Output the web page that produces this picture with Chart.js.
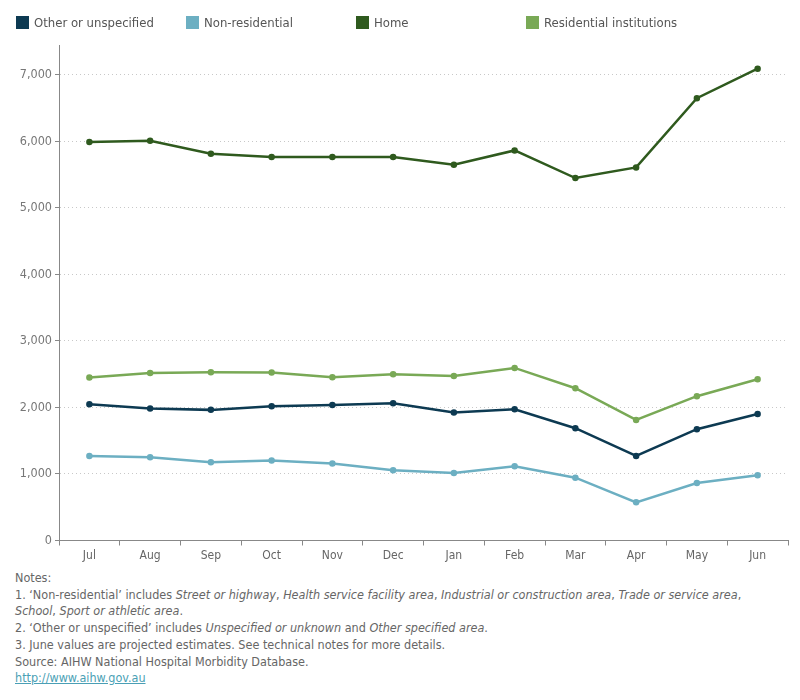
<!DOCTYPE html>
<html>
<head>
<meta charset="utf-8">
<script src="https://cdn.jsdelivr.net/npm/chart.js@4"></script>
<style>
body { margin: 0; background: #fff; font-family: "Liberation Sans Narrow", "DejaVu Sans Condensed", "Open Sans", sans-serif; }
#wrap { position: relative; width: 800px; height: 700px; }
#legend { position: absolute; left: 16px; top: 14px; font-size: 13px; color: #555; }
.item { position: absolute; top: 0; white-space: nowrap; }
.item span.sw { position: absolute; left: 0; top: 2px; width: 13px; height: 13px; }
.item span.tx { position: absolute; left: 18px; top: 0; line-height: 17px; }
#canvasBox { position: absolute; left: 0; top: 0; width: 800px; height: 570px; }
#notes { position: absolute; left: 15px; top: 570px; font-size: 12.5px; line-height: 16.7px; color: #666; }
#notes a { color: #4a9fb5; }
</style>
</head>
<body>
<div id="wrap">
  <div id="canvasBox"><canvas id="chart"></canvas></div>
  <div id="legend"></div>
  <div id="notes">
    Notes:<br>
    1. ‘Non-residential’ includes <i>Street or highway</i>, <i>Health service facility area</i>, <i>Industrial or construction area</i>, <i>Trade or service area</i>,<br>
    <i>School</i>, <i>Sport or athletic area</i>.<br>
    2. ‘Other or unspecified’ includes <i>Unspecified or unknown</i> and <i>Other specified area</i>.<br>
    3. June values are projected estimates. See technical notes for more details.<br>
    Source: AIHW National Hospital Morbidity Database.<br>
    <a href="http://www.aihw.gov.au">http://www.aihw.gov.au</a>
  </div>
</div>
<script>
const months = ["Jul", "Aug", "Sep", "Oct", "Nov", "Dec", "Jan", "Feb", "Mar", "Apr", "May", "Jun"]
const otherUnspecified = [2049, 1983, 1964, 2019, 2039, 2064, 1923, 1974, 1688, 1271, 1673, 1903]
const nonResidential = [1271, 1251, 1176, 1201, 1156, 1056, 1016, 1116, 945, 574, 865, 981]
const home = [5991, 6011, 5815, 5766, 5766, 5766, 5650, 5865, 5450, 5610, 6650, 7094]
const residential = [2450, 2520, 2531, 2526, 2455, 2500, 2475, 2595, 2290, 1813, 2170, 2425]
const yTicks = [0, 1000, 2000, 3000, 4000, 5000, 6000, 7000]

const series = [
	{ label: "Other or unspecified", data: otherUnspecified, color: "#0d3a52" },
	{ label: "Non-residential", data: nonResidential, color: "#6cafc2" },
	{ label: "Home", data: home, color: "#2f5a1e" },
	{ label: "Residential institutions", data: residential, color: "#79a956" },
]

// legend
const legend = document.getElementById("legend")
series.forEach((s, i) => {
	const d = document.createElement("div")
	d.className = "item"
	d.style.left = (i * 170) + "px"
	d.innerHTML = `<span class="sw" style="background:${s.color}"></span><span class="tx">${s.label}</span>`
	legend.appendChild(d)
})

const ctx = document.getElementById("chart").getContext("2d")
new Chart(ctx, {
	type: "line",
	data: {
		labels: months,
		datasets: series.map(s => ({
			label: s.label,
			data: s.data,
			borderColor: s.color,
			backgroundColor: s.color,
			borderWidth: 2.5,
			pointRadius: 2,
			pointHoverRadius: 3,
			tension: 0,
		})),
	},
	options: {
		responsive: true,
		maintainAspectRatio: false,
		animation: false,
		layout: { padding: { top: 45, right: 12, left: 0, bottom: 0 } },
		plugins: { legend: { display: false }, tooltip: { enabled: false } },
		scales: {
			x: {
				offset: true,
				grid: { offset: true, drawOnChartArea: false, tickLength: 5, color: "#888", tickColor: "#888" },
				border: { color: "#888", width: 1 },
				ticks: { color: "#666", font: { size: 12, family: "Liberation Sans Narrow, DejaVu Sans Condensed, sans-serif" }, padding: 3 },
				afterFit: scale => { scale.height = 29.5 },
			},
			y: {
				min: 0,
				max: 7450,
				afterBuildTicks: scale => { scale.ticks = yTicks.map(v => ({ value: v })) },
				grid: { color: "#c8c8c8", tickLength: 4, tickColor: "#888", tickBorderDash: [] },
				border: { color: "#888", width: 1, dash: [1, 3] },
				ticks: {
					color: "#777",
					font: { size: 12.5, family: "Liberation Sans Narrow, DejaVu Sans Condensed, sans-serif" },
					padding: 3,
					callback: v => v.toLocaleString("en-US"),
				},
				afterFit: scale => { scale.width = 59 },
			},
		},
	},
})
</script>
</body>
</html>
